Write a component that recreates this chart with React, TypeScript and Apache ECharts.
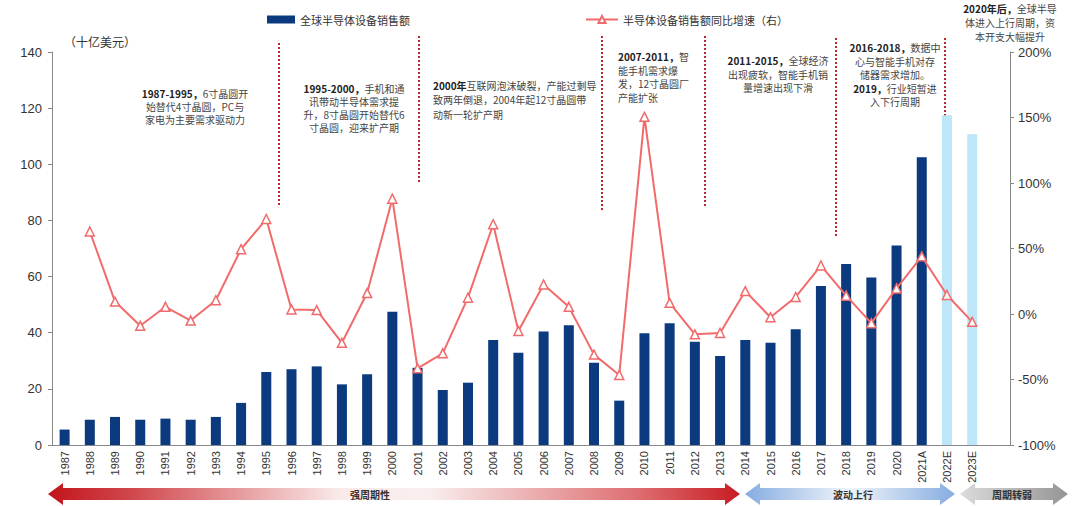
import React, { useEffect, useRef } from "react";
import * as echarts from "echarts";

const years = [
  "1987", "1988", "1989", "1990", "1991", "1992", "1993", "1994", "1995", "1996",
  "1997", "1998", "1999", "2000", "2001", "2002", "2003", "2004", "2005", "2006",
  "2007", "2008", "2009", "2010", "2011", "2012", "2013", "2014", "2015", "2016",
  "2017", "2018", "2019", "2020", "2021A", "2022E", "2023E", "",
];

const sales = [
  5.5, 9, 10, 9, 9.4, 9, 10, 15, 26, 27,
  28, 21.6, 25.2, 47.5, 27.5, 19.6, 22.2, 37.4, 32.9, 40.4,
  42.7, 29.3, 15.8, 39.8, 43.4, 36.8, 31.7, 37.4, 36.4, 41.2,
  56.6, 64.5, 59.7, 71.1, 102.5, 117.5, 110.7,
];

const growth = [
  null, 63, 9.5, -9, 5.5, -5, 10.5, 49.5, 72.5, 3.5,
  3, -22, 16, 88, -41.5, -30, 12.5, 68.5, -13, 22.5,
  5.5, -31, -46.5, 150.5, 8.5, -15.5, -14.5, 17.5, -2.5, 13,
  37, 14, -7, 19.5, 44, 14.5, -6,
];

const leftTicks = { min: 0, max: 140, interval: 20 };
const rightTicks = { min: -100, max: 200, interval: 50 };

const barName = "全球半导体设备销售额";
const lineName = "半导体设备销售额同比增速（右）";

const NAVY = "#0b3a7e";
const LIGHT = "#bde6f8";
const RED = "#f26b6b";
const TXT = "#333";
const CJK = "'Noto Sans CJK SC', 'Liberation Sans', sans-serif";
const NUM = "'Liberation Sans', Arial, sans-serif";

const notes = [
  { x: 195, y: 87, align: "center", lh: 13, text: "{b|1987-1995，}6寸晶圆开\n始替代4寸晶圆，PC与\n家电为主要需求驱动力" },
  { x: 354, y: 82, align: "center", lh: 13, text: "{b|1995-2000，}手机和通\n讯带动半导体需求提\n升，8寸晶圆开始替代6\n寸晶圆，迎来扩产期" },
  { x: 433, y: 78, align: "left", lh: 14.5, text: "{b|2000年}互联网泡沫破裂，产能过剩导\n致两年倒退，2004年起12寸晶圆带\n动新一轮扩产期" },
  { x: 618, y: 50, align: "left", lh: 13.5, text: "{b|2007-2011，}智\n能手机需求爆\n发，12寸晶圆厂\n产能扩张" },
  { x: 778, y: 54, align: "center", lh: 13.5, text: "{b|2011-2015，}全球经济\n出现疲软，智能手机销\n量增速出现下滑" },
  { x: 895, y: 41, align: "center", lh: 13.5, text: "{b|2016-2018，}数据中\n心与智能手机对存\n储器需求增加。\n{b|2019，}行业短暂进\n入下行周期" },
  { x: 1010, y: 1, align: "center", lh: 14, text: "{b|2020年后，}全球半导\n体进入上行周期，资\n本开支大幅提升" },
];

const dotted = [
  { x: 279, y1: 43, y2: 207 },
  { x: 419, y1: 36, y2: 184 },
  { x: 602, y1: 36, y2: 210 },
  { x: 705, y1: 36, y2: 208 },
  { x: 836, y1: 38, y2: 237 },
  { x: 945, y1: 38, y2: 203 },
];

function arrowPoints(x1: number, x2: number, cy: number) {
  const h = 15;
  return [
    [x1, cy], [x1 + h, cy - 11], [x1 + h, cy - 6], [x2 - h, cy - 6], [x2 - h, cy - 11],
    [x2, cy], [x2 - h, cy + 11], [x2 - h, cy + 6], [x1 + h, cy + 6], [x1 + h, cy + 11],
  ];
}

export default function App() {
  const ref = useRef<HTMLDivElement>(null);
  useEffect(() => {
    if (!ref.current) return;
    const chart = echarts.init(ref.current, undefined, { renderer: "svg" });
    const barData = sales.map((v, i) => ({
      value: v,
      itemStyle: { color: years[i].endsWith("E") ? LIGHT : NAVY },
    }));
    const graphics: any[] = [];
    graphics.push({
      type: "text", left: 64, top: 35,
      style: { text: "（十亿美元）", fill: TXT, font: `12px ${CJK}` },
    });
    dotted.forEach((d) => {
      graphics.push({
        type: "line", silent: true,
        shape: { x1: d.x, y1: d.y1, x2: d.x, y2: d.y2 },
        style: { stroke: "#c0272d", lineWidth: 2, lineDash: [2, 2] },
      });
    });
    notes.forEach((n) => {
      graphics.push({
        type: "text", x: n.x, y: n.y,
        style: {
          text: n.text, align: n.align, verticalAlign: "top",
          fill: "#444", fontSize: 10, fontFamily: CJK, lineHeight: n.lh,
          rich: { b: { fontWeight: "bold", fontSize: 10, fontFamily: CJK, fill: "#222", lineHeight: n.lh } },
        },
      });
    });
    const arrows = [
      { x1: 48, x2: 740, label: "强周期性", lx: 370, stops: [[0, "#c2141b"], [0.12, "#d0474c"], [0.42, "#fae9e9"], [0.55, "#f9eeee"], [0.85, "#de6f72"], [1, "#c71c22"]] },
      { x1: 745, x2: 955, label: "波动上行", lx: 853, stops: [[0, "#86ace0"], [0.5, "#f1f5fb"], [1, "#86ace0"]] },
      { x1: 960, x2: 1068, label: "周期转弱", lx: 1012, stops: [[0, "#dcdcdc"], [1, "#959595"]] },
    ];
    arrows.forEach((a) => {
      graphics.push({
        type: "polygon", silent: true,
        shape: { points: arrowPoints(a.x1, a.x2, 494) },
        style: {
          fill: new echarts.graphic.LinearGradient(0, 0, 1, 0,
            a.stops.map((s) => ({ offset: s[0] as number, color: s[1] as string }))),
        },
      });
      graphics.push({
        type: "text", x: a.lx, y: 494,
        style: { text: a.label, align: "center", verticalAlign: "middle", fill: TXT, font: `bold 10px ${CJK}` },
      });
    });

    chart.setOption({
      animation: false,
      backgroundColor: "#fff",
      grid: { left: 52, right: 70, top: 52, bottom: 61 },
      legend: [
        {
          data: [{ name: barName, icon: "rect" }], left: 262, top: 9,
          itemWidth: 28, itemHeight: 8,
          textStyle: { color: TXT, fontSize: 11, fontFamily: CJK },
        },
        {
          data: [barName === "" ? "" : lineName], left: 580, top: 9,
          itemWidth: 32, itemHeight: 9,
          textStyle: { color: TXT, fontSize: 11, fontFamily: CJK },
        },
      ],
      xAxis: {
        type: "category", data: years,
        axisLine: { lineStyle: { color: "#888" } },
        axisTick: { lineStyle: { color: "#888" }, length: 4 },
        axisLabel: { rotate: 90, interval: 0, color: TXT, fontSize: 11, fontFamily: NUM, margin: 6 },
      },
      yAxis: [
        {
          type: "value", ...leftTicks,
          splitLine: { show: false },
          axisLine: { show: true, lineStyle: { color: "#888" } },
          axisTick: { show: true, length: 4, lineStyle: { color: "#888" } },
          axisLabel: { color: TXT, fontSize: 13, fontFamily: NUM, margin: 10 },
        },
        {
          type: "value", ...rightTicks, position: "right",
          splitLine: { show: false },
          axisLine: { show: true, lineStyle: { color: "#888" } },
          axisTick: { show: true, length: 4, lineStyle: { color: "#888" } },
          axisLabel: { color: TXT, fontSize: 13, fontFamily: NUM, margin: 8, formatter: "{value}%" },
        },
      ],
      series: [
        {
          name: barName, type: "bar", data: barData, barWidth: 10,
          itemStyle: { color: NAVY },
        },
        {
          name: lineName, type: "line", yAxisIndex: 1, data: growth,
          symbol: "triangle", symbolSize: 9, showAllSymbol: true,
          lineStyle: { color: RED, width: 2 },
          itemStyle: { color: "#fff", borderColor: RED, borderWidth: 1.5 },
          z: 5,
        },
      ],
      graphic: graphics,
    });
    return () => chart.dispose();
  }, []);
  return (
    <div
      ref={ref}
      style={{ position: "fixed", left: 0, top: 0, width: 1080, height: 506, background: "#fff" }}
    />
  );
}
